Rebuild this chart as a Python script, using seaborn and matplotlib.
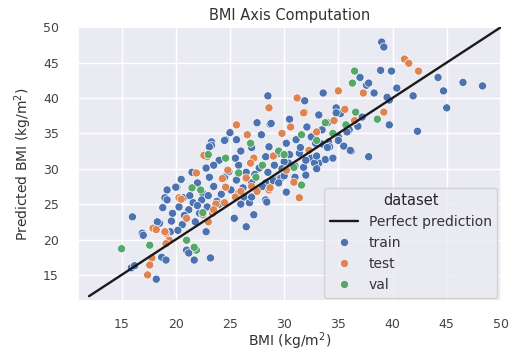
import matplotlib
matplotlib.use("Agg")
import matplotlib.pyplot as plt
import seaborn as sns
import pandas as pd

# ---- data ----
train_pts = [
    (39.0, 47.9), (39.2, 47.2), (38.9, 43.9), (39.9, 43.8), (37.0, 42.9), (37.6, 41.8),
    (44.2, 42.9), (46.5, 42.2), (48.3, 41.7), (44.7, 41.0), (41.9, 40.3), (45.0, 38.6),
    (42.3, 35.3), (39.7, 36.2), (39.7, 39.7), (39.5, 40.1), (40.4, 41.4), (38.3, 40.7),
    (36.2, 32.5), (37.8, 31.7), (33.6, 40.7), (28.5, 40.3), (31.9, 39.6), (28.7, 36.3),
    (37.8, 42.1), (34.8, 38.6), (35.2, 37.8), (28.8, 36.4), (33.2, 37.6), (32.1, 35.9),
    (34.8, 37.9), (24.6, 34.1), (27.9, 34.8), (28.6, 33.1), (30.2, 33.6), (31.1, 34.1),
    (32.9, 33.6), (34.1, 33.8), (35.0, 34.5), (36.1, 32.6), (29.5, 32.2), (31.4, 32.2),
    (28.3, 31.7), (24.0, 31.2), (25.8, 30.5), (27.7, 30.1), (29.1, 30.5), (30.4, 30.8),
    (31.8, 30.2), (32.5, 31.5), (33.2, 30.8), (32.0, 29.1), (24.5, 28.8), (25.6, 28.4),
    (27.0, 28.0), (28.3, 28.0), (29.2, 28.4), (29.7, 28.7), (30.2, 26.7), (25.1, 27.0),
    (26.3, 26.0), (26.8, 25.2), (28.3, 25.6), (23.8, 25.4), (24.0, 25.0), (32.8, 30.8),
    (34.2, 33.1), (33.5, 33.5), (33.8, 31.3), (28.4, 25.3), (23.3, 33.8), (23.3, 33.3),
    (23.5, 30.5), (23.1, 28.8), (19.2, 27.0), (20.1, 27.4), (20.7, 25.9), (21.3, 26.2),
    (19.0, 25.9), (23.1, 33.1), (24.5, 34.0), (25.0, 35.1), (25.6, 34.1), (22.8, 30.1),
    (16.0, 23.2), (19.2, 25.6), (20.3, 24.6), (19.7, 23.7), (21.2, 24.2), (22.2, 23.7),
    (22.9, 24.6), (16.9, 20.9), (18.5, 22.3), (18.3, 22.5), (19.5, 21.1), (20.6, 22.1),
    (18.7, 17.5), (19.1, 17.1), (18.2, 14.4), (21.0, 18.5), (21.2, 18.1), (21.7, 17.1),
    (23.2, 17.4), (15.9, 16.0), (16.2, 16.3), (17.0, 20.6), (22.8, 21.1), (21.8, 22.5),
    (25.4, 23.0), (26.5, 21.8), (27.2, 23.5), (20.0, 27.4), (18.8, 24.5), (29.0, 28.3),
    (30.0, 29.0), (31.0, 30.4), (32.0, 31.2), (33.0, 31.8), (34.0, 33.0), (35.0, 34.0),
    (36.0, 35.5), (33.0, 30.0), (34.5, 31.5), (35.5, 33.2), (27.0, 26.0), (26.0, 25.0),
    (28.0, 27.5), (29.5, 28.0), (30.5, 32.0), (31.5, 33.0), (32.5, 34.5), (33.5, 35.5),
    (34.0, 36.5), (36.8, 36.0), (37.2, 37.3), (35.8, 35.2), (26.0, 32.5), (27.0, 33.0),
    (25.5, 31.5), (22.0, 28.0), (21.5, 29.5), (20.5, 28.5), (22.5, 26.5), (23.5, 27.5),
    (26.5, 29.5), (28.5, 29.5), (30.0, 31.0), (31.0, 28.8), (27.5, 36.5), (30.5, 37.0),
    (20.8, 23.4), (21.6, 25.2), (22.4, 25.6), (23.0, 26.2), (24.2, 26.4), (19.6, 22.6),
    (20.2, 21.3), (22.0, 24.8), (24.9, 29.6), (26.2, 27.3), (27.3, 29.2), (29.8, 30.0),
]
test_pts = [
    (41.1, 45.5), (41.5, 44.9), (42.4, 43.8), (35.0, 41.0), (31.2, 40.0), (28.6, 38.6),
    (31.9, 38.0), (37.3, 40.7), (39.2, 38.0), (35.6, 38.4), (25.6, 36.2), (31.8, 37.9),
    (30.6, 35.9), (26.6, 34.8), (29.8, 35.0), (32.3, 32.6), (27.2, 31.5), (26.9, 30.8),
    (30.2, 29.8), (26.5, 28.7), (28.6, 27.0), (30.9, 28.1), (24.6, 27.4), (25.8, 26.6),
    (27.5, 26.8), (31.4, 25.9), (23.7, 25.0), (24.3, 28.6), (28.7, 27.3), (22.9, 31.7),
    (20.3, 25.9), (22.6, 31.9), (21.9, 29.4), (20.5, 25.7), (19.1, 20.9), (19.4, 19.9),
    (19.1, 19.4), (17.8, 17.4), (17.6, 16.4), (17.4, 15.0), (17.9, 21.6), (18.2, 21.4),
    (19.0, 21.1), (23.4, 23.7), (22.5, 23.5), (23.5, 24.2), (24.5, 25.2), (25.5, 26.0),
    (26.0, 26.8), (27.0, 27.5), (23.0, 22.5), (24.8, 29.8), (29.0, 31.8), (33.0, 35.2),
    (34.6, 36.8), (21.0, 23.0), (36.5, 36.8),
]
val_pts = [
    (36.5, 43.8), (36.3, 42.1), (38.6, 37.0), (36.6, 38.0), (33.8, 36.5), (35.7, 36.2),
    (26.9, 33.6), (31.6, 34.8), (29.5, 32.5), (24.6, 31.5), (30.9, 30.2), (25.8, 29.4),
    (27.4, 28.8), (31.6, 27.7), (21.5, 27.3), (22.3, 27.0), (15.0, 18.7), (17.6, 19.2),
    (21.0, 19.9), (21.9, 18.5), (21.7, 18.9), (22.5, 23.8), (28.0, 30.5), (33.0, 34.0),
    (30.0, 32.0), (34.5, 35.0), (23.0, 32.0),
]

bmi_true = [p[0] for p in train_pts] + [p[0] for p in test_pts] + [p[0] for p in val_pts]
bmi_pred = [p[1] for p in train_pts] + [p[1] for p in test_pts] + [p[1] for p in val_pts]
dataset = ["train"] * len(train_pts) + ["test"] * len(test_pts) + ["val"] * len(val_pts)
line_range = [12.0, 50.0]
xticks = [15, 20, 25, 30, 35, 40, 45, 50]
yticks = [15, 20, 25, 30, 35, 40, 45, 50]

df = pd.DataFrame({"BMI": bmi_true, "Predicted": bmi_pred, "dataset": dataset})

sns.set_theme(style="darkgrid")
plt.rcParams["font.family"] = ["DejaVu Sans"]

fig = plt.figure(figsize=(5.18, 3.53), dpi=100)
ax = fig.add_axes([0.151, 0.147, 0.816, 0.776])

ax.plot(line_range, line_range, color="#1a1a1a", lw=1.7, label="Perfect prediction", zorder=3)
sns.scatterplot(data=df, x="BMI", y="Predicted", hue="dataset",
                hue_order=["train", "test", "val"], s=34, ax=ax, zorder=2)

ax.set_xlim(11.0, 49.9)
ax.set_ylim(11.3, 50.0)
ax.set_xticks(xticks)
ax.set_yticks(yticks)
ax.tick_params(labelsize=9, colors="#444444")
ax.tick_params(axis="x", pad=6)
ax.tick_params(axis="y", pad=8)
ax.set_xlabel("BMI (kg/m$^2$)", fontsize=10, color="#333333", labelpad=0)
ax.set_ylabel("Predicted BMI (kg/m$^2$)", fontsize=10, color="#333333", labelpad=6)
ax.set_title("BMI Axis Computation", fontsize=10.5, color="#333333", pad=5)

handles, labels = ax.get_legend_handles_labels()
ax.legend(handles, labels, title="dataset", loc="lower right", fontsize=10,
          title_fontsize=10.5, borderaxespad=0.25, labelcolor="#333333")

fig.savefig("out.png", dpi=100)
